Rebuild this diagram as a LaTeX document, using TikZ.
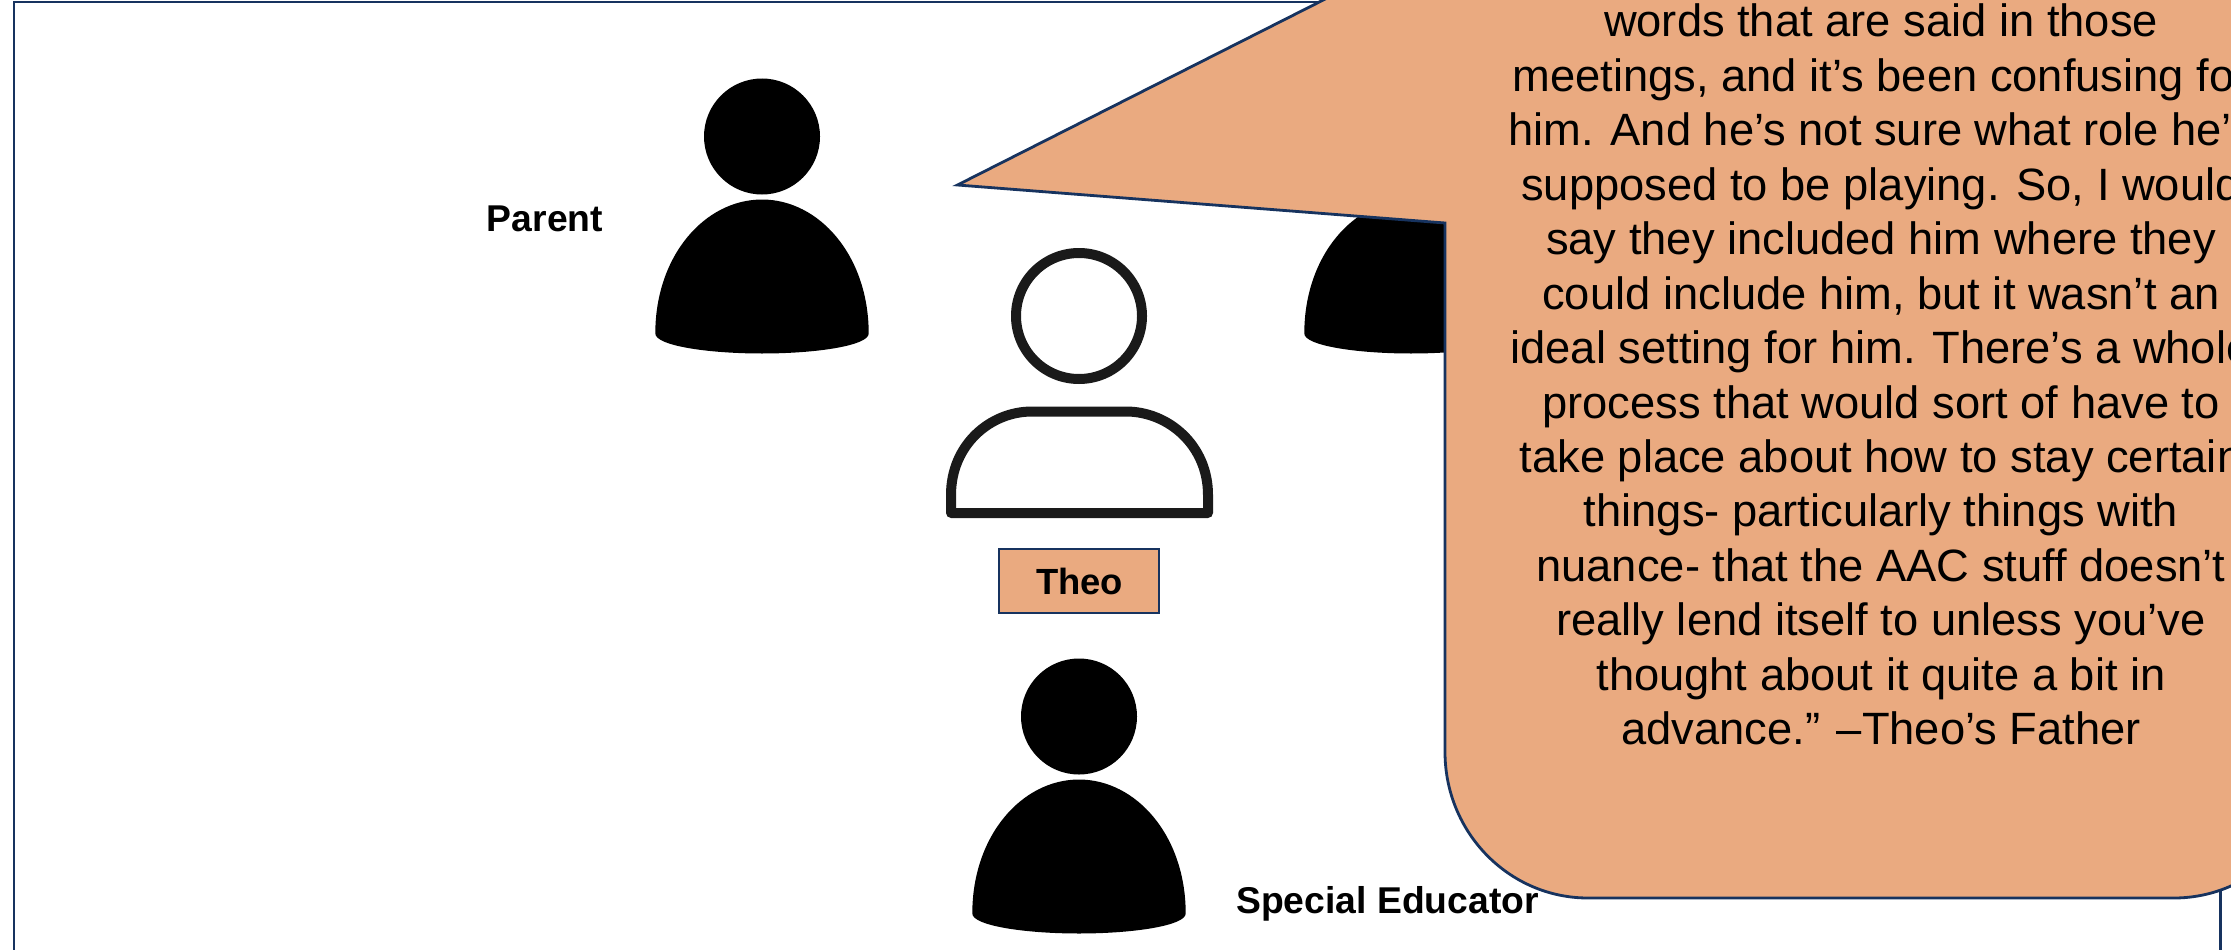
\documentclass[tikz,border=0pt]{standalone}
\usepackage{fontspec}
\setmainfont{Liberation Sans}
\definecolor{calloutfill}{HTML}{EAAA80}
\definecolor{navyline}{HTML}{17335F}
\definecolor{iconline}{HTML}{1A1A1A}
\tikzset{
  x=1pt,y=-1pt,
  frameline/.style={draw=navyline,line width=2.8pt},
  calloutshape/.style={draw=navyline,line width=2.8pt,fill=calloutfill},
  rolelabel/.style={font=\bfseries\fontsize{37.3}{44}\selectfont,inner sep=0pt,text=black},
  boxlabel/.style={font=\bfseries\fontsize{36.4}{44}\selectfont,inner sep=0pt,text=black},
  quotetext/.style={font=\fontsize{45.3}{54.46}\selectfont,align=center,inner sep=0pt,text=black},
  person/.pic={
    \fill[black] (0,58) circle [radius=58];
    \fill[black] (-106.7,255) .. controls (-106.7,177) and (-57,121) .. (0,121)
      .. controls (57,121) and (106.7,177) .. (106.7,255)
      .. controls (106.7,267) and (55,275) .. (0,275)
      .. controls (-55,275) and (-106.7,267) .. (-106.7,255) -- cycle;
  }
}
\begin{document}
\begin{tikzpicture}
\useasboundingbox (0,0) rectangle (2231,950);
\clip (0,0) rectangle (2231,950);
\fill[white] (0,0) rectangle (2231,950);
\draw[frameline] (14,2) rectangle (2220.5,970);
\pic at (762,78.5) {person};
\pic at (1411,78.5) {person};
\pic at (1079,658.5) {person};
% Theo outline icon
\draw[iconline,line width=10pt] (1079,316) circle [radius=63];
\draw[iconline,line width=10pt,line join=round]
  (951,513) -- (951,495) .. controls (951,445) and (990,411.5) .. (1032,411.5)
  -- (1126,411.5) .. controls (1168,411.5) and (1208,445) .. (1208,495)
  -- (1208,513) -- cycle;
\node[rolelabel,anchor=base] (parent) at (545,231.5) {Parent};
\node[rolelabel,anchor=base west] (educator) at (1236,913) {Special Educator};
\node[draw=navyline,line width=2pt,fill=calloutfill,minimum width=160pt,minimum height=64pt,inner sep=0pt] (theobox) at (1079,580.5) {};
\node[boxlabel,anchor=base] (theo) at (1079.5,594.5) {Theo};
% callout
\draw[calloutshape] (957.5,185) -- (1521,-100) -- (2317,-100) -- (2317,752)
  .. controls (2317,832.6) and (2253,898) .. (2174,898)
  -- (1588,898) .. controls (1509,898) and (1445,832.6) .. (1445,752)
  -- (1445,223) -- cycle;
\node[quotetext,anchor=north] (quote) at (1881,3.8) {words that are said in those\\
meetings, and it’s been confusing for\\
him. And he’s not sure what role he’s\\
supposed to be playing. So, I would\\
say they included him where they\\
could include him, but it wasn’t an\\
ideal setting for him. There’s a whole\\
process that would sort of have to\\
take place about how to stay certain\\
things- particularly things with\\
nuance- that the AAC stuff doesn’t\\
really lend itself to unless you’ve\\
thought about it quite a bit in\\
advance.” –Theo’s Father};
\end{tikzpicture}
\end{document}
